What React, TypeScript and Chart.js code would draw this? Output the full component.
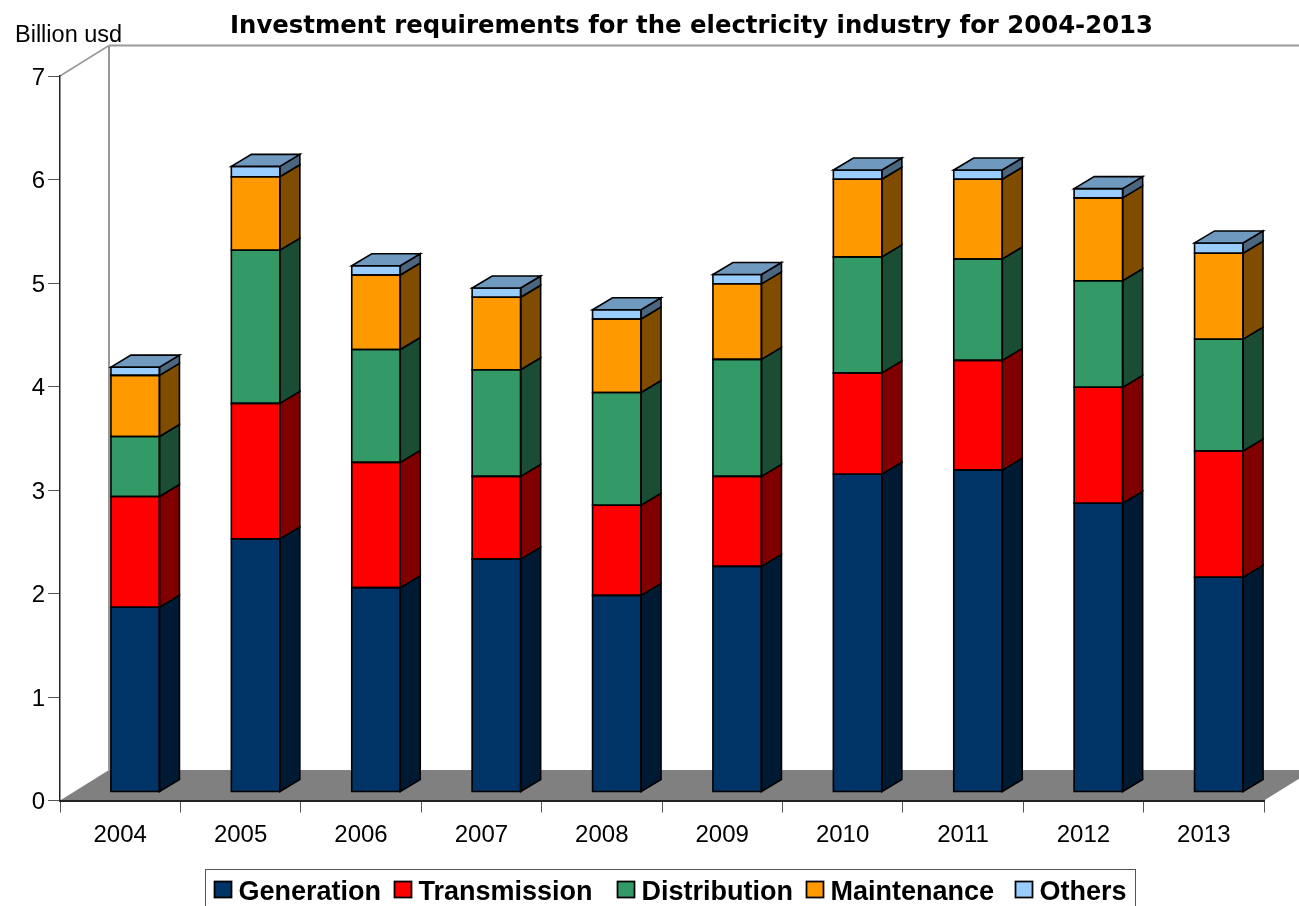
import React, { useEffect, useRef } from "react";
import { Chart, registerables } from "chart.js";

Chart.register(...registerables);

const years = ["2004", "2005", "2006", "2007", "2008", "2009", "2010", "2011", "2012", "2013"];
const generation = [1.785, 2.445, 1.975, 2.25, 1.9, 2.18, 3.07, 3.11, 2.79, 2.075];
const transmission = [1.07, 1.31, 1.21, 0.8, 0.87, 0.87, 0.98, 1.06, 1.12, 1.22];
const distribution = [0.58, 1.48, 1.09, 1.03, 1.09, 1.13, 1.12, 0.98, 1.03, 1.08];
const maintenance = [0.59, 0.71, 0.72, 0.7, 0.71, 0.73, 0.75, 0.77, 0.8, 0.83];
const others = [0.08, 0.1, 0.09, 0.09, 0.09, 0.09, 0.09, 0.09, 0.09, 0.1];

const titleText = "Investment requirements for the electricity industry for 2004-2013";
const unitText = "Billion usd";
const SANS = '"Liberation Sans", Arial, sans-serif';

const FRONT = ["#003366", "#FF0000", "#339966", "#FF9900", "#99CCFF"];
const SIDE = ["#001A33", "#800000", "#1A4D33", "#804D00", "#4D6680"];
const TOP = ["#002650", "#BF0000", "#26734D", "#BF7300", "#7099BF"];
const LEGEND_X = [214, 394, 617, 806, 1015];

const WALL_DX = 49;
const WALL_DY = 30.5;
const BAR_DX = 15;
const BAR_DY = -8.5;
const DEPTH_X = 20;
const DEPTH_Y = 12;

function poly(ctx: CanvasRenderingContext2D, pts: number[][], fill: string | null, stroke: string | null, lw = 1.6) {
  ctx.beginPath();
  pts.forEach((p, i) => (i ? ctx.lineTo(p[0], p[1]) : ctx.moveTo(p[0], p[1])));
  ctx.closePath();
  if (fill) {
    ctx.fillStyle = fill;
    ctx.fill();
  }
  if (stroke) {
    ctx.strokeStyle = stroke;
    ctx.lineWidth = lw;
    ctx.lineJoin = "miter";
    ctx.stroke();
  }
}

const scene3d = {
  id: "scene3d",
  afterLayout(chart: any) {
    // Title is centred over the plot's visual middle rather than the canvas
    const t = chart.titleBlock;
    if (t) {
      t.left = 230;
      t.right = 1153;
    }
    // Value labels sit slightly below their tick marks
    const y = chart.scales.y;
    if (y && !y.__nudged) {
      y.__nudged = true;
      const original = y.drawLabels;
      y.drawLabels = function (area: any) {
        this.ctx.save();
        this.ctx.translate(0, 2);
        original.call(this, area);
        this.ctx.restore();
      };
    }
  },
  beforeDraw(chart: any) {
    const { ctx, chartArea: a } = chart;
    const gray = "#999999";
    // floor
    poly(
      ctx,
      [
        [a.left, a.bottom],
        [a.left + WALL_DX, a.bottom - WALL_DY],
        [a.right + WALL_DX, a.bottom - WALL_DY],
        [a.right, a.bottom],
      ],
      "#808080",
      null
    );
    // back wall outline
    ctx.strokeStyle = gray;
    ctx.beginPath();
    ctx.moveTo(a.left, a.top);
    ctx.lineTo(a.left + WALL_DX, a.top - WALL_DY);
    ctx.lineWidth = 1.5;
    ctx.stroke();
    ctx.beginPath();
    ctx.moveTo(a.left + WALL_DX, a.top - WALL_DY);
    ctx.lineTo(a.right + WALL_DX, a.top - WALL_DY);
    ctx.moveTo(a.left + WALL_DX, a.top - WALL_DY);
    ctx.lineTo(a.left + WALL_DX, a.bottom - WALL_DY);
    ctx.lineWidth = 2;
    ctx.stroke();
    // unit label
    ctx.fillStyle = "#000";
    ctx.font = `23.5px ${SANS}`;
    ctx.textAlign = "left";
    ctx.textBaseline = "alphabetic";
    ctx.fillText(unitText, 15, 42);
  },
  beforeDatasetsDraw(chart: any) {
    chart.ctx.save();
    chart.ctx.translate(BAR_DX, BAR_DY);
  },
  afterDatasetsDraw(chart: any) {
    const { ctx } = chart;
    const n = chart.data.datasets.length;
    chart.data.datasets.forEach((_: any, di: number) => {
      chart.getDatasetMeta(di).data.forEach((bar: any) => {
        const r = bar.x + bar.width / 2;
        const l = bar.x - bar.width / 2;
        poly(
          ctx,
          [
            [r, bar.y],
            [r + DEPTH_X, bar.y - DEPTH_Y],
            [r + DEPTH_X, bar.base - DEPTH_Y],
            [r, bar.base],
          ],
          SIDE[di],
          "#000"
        );
        poly(
          ctx,
          [
            [l, bar.y],
            [r, bar.y],
            [r, bar.base],
            [l, bar.base],
          ],
          null,
          "#000"
        );
        if (di === n - 1) {
          poly(
            ctx,
            [
              [l, bar.y],
              [l + DEPTH_X, bar.y - DEPTH_Y],
              [r + DEPTH_X, bar.y - DEPTH_Y],
              [r, bar.y],
            ],
            TOP[di],
            "#000"
          );
        }
      });
    });
    ctx.restore();
  },
  afterDraw(chart: any) {
    const { ctx } = chart;
    // legend frame, cut by the bottom of the page as in the source
    ctx.strokeStyle = "#555";
    ctx.lineWidth = 1;
    ctx.strokeRect(205.5, 869.5, 930, 60);
    ctx.font = `bold 27px ${SANS}`;
    ctx.textBaseline = "alphabetic";
    ctx.textAlign = "left";
    chart.data.datasets.forEach((ds: any, i: number) => {
      const x = LEGEND_X[i];
      ctx.fillStyle = FRONT[i];
      ctx.fillRect(x, 881, 18, 17);
      ctx.strokeStyle = "#000";
      ctx.lineWidth = 1.75;
      ctx.strokeRect(x + 0.5, 881.5, 17, 16);
      ctx.fillStyle = "#000";
      ctx.fillText(ds.label, x + 24.5, 900);
    });
  },
};

export default function App() {
  const ref = useRef<HTMLCanvasElement>(null);
  useEffect(() => {
    const series = [generation, transmission, distribution, maintenance, others];
    const names = ["Generation", "Transmission", "Distribution", "Maintenance", "Others"];
    const chart = new Chart(ref.current as HTMLCanvasElement, {
      type: "bar",
      data: {
        labels: years,
        datasets: series.map((data, i) => ({
          label: names[i],
          data,
          backgroundColor: FRONT[i],
          borderWidth: 0,
          barThickness: 48.5,
          clip: false as any,
        })),
      },
      options: {
        responsive: false,
        animation: false,
        devicePixelRatio: 1,
        layout: { padding: { top: 12, right: 35, left: 0, bottom: 0 } },
        plugins: {
          legend: { display: false },
          tooltip: { enabled: false },
          title: {
            display: true,
            text: titleText,
            color: "#000",
            font: { family: '"DejaVu Sans", Verdana, sans-serif', size: 24.4, weight: "bold", lineHeight: 1.2 },
            padding: { top: 0, bottom: 34.72 },
          },
        },
        scales: {
          x: {
            stacked: true,
            grid: { drawOnChartArea: false, drawTicks: true, tickLength: 12, color: "#555", offset: true },
            border: { color: "#222", width: 2 },
            ticks: { color: "#000", font: { family: SANS, size: 24 }, padding: 8, maxRotation: 0, autoSkip: false },
            afterFit: (s: any) => {
              s.height = 105.5;
            },
          },
          y: {
            stacked: true,
            min: 0,
            max: 7,
            grid: { drawOnChartArea: false, drawTicks: true, tickLength: 12, color: "#555" },
            border: { color: "#222", width: 1.5 },
            ticks: { stepSize: 1, color: "#000", font: { family: SANS, size: 24 }, padding: 3 },
            afterFit: (s: any) => {
              s.width = 60;
            },
          },
        },
      },
      plugins: [scene3d],
    } as any);
    return () => chart.destroy();
  }, []);
  return (
    <canvas
      ref={ref}
      width={1299}
      height={906}
      style={{ position: "fixed", left: 0, top: 0, width: 1299, height: 906, display: "block" }}
    />
  );
}
